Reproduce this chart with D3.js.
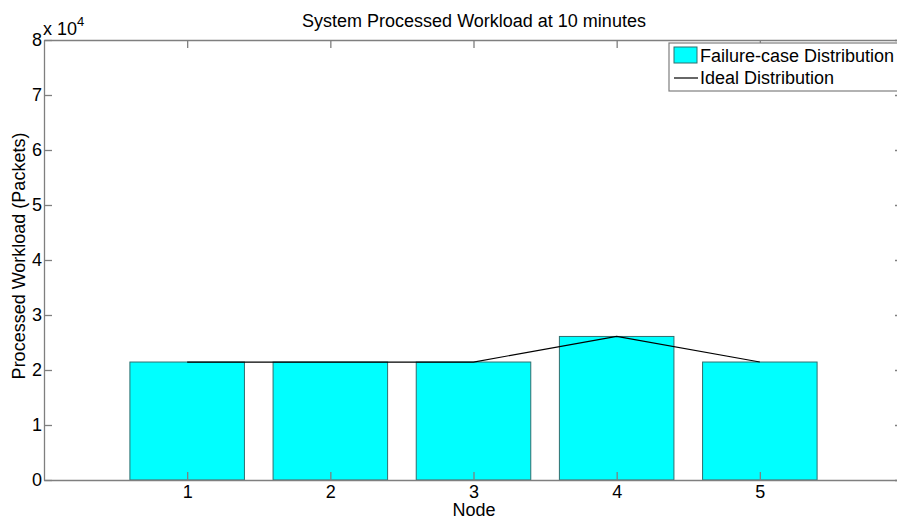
<!DOCTYPE html>
<html>
<head>
<meta charset="utf-8">
<script src="https://cdn.jsdelivr.net/npm/d3@7"></script>
<style>
  html, body { margin: 0; padding: 0; background: #fff; }
  svg { display: block; font-family: "Liberation Sans", Arial, sans-serif; }
</style>
</head>
<body>
<svg id="chart" width="897" height="520"></svg>
<script>
// Node identifiers along the x axis
const nodes = [1, 2, 3, 4, 5];
// Processed workload per node (packets) after a failure
const failureWorkload = [21450, 21450, 21450, 26100, 21450];
// Workload each node would carry under the ideal distribution
const idealWorkload = [21450, 21450, 21450, 26100, 21450];
// Y tick values in units of 10^4 packets
const yTicks = [0, 1, 2, 3, 4, 5, 6, 7, 8];

const svg = d3.select("#chart");
const plotLeft = 44, plotRight = 903, plotTop = 40, plotBottom = 480;
const axisColor = "#7f7f7f";
const fontFamily = "Liberation Sans, Arial, sans-serif";

const x = d3.scaleLinear().domain([0, 6]).range([plotLeft, plotRight]);
const y = d3.scaleLinear().domain([0, 80000]).range([plotBottom, plotTop]);
const barW = x(0.8) - x(0);

// Bars
svg.append("g").selectAll("rect")
  .data(nodes)
  .join("rect")
  .attr("x", (d) => x(d) - barW / 2)
  .attr("y", (d, i) => y(failureWorkload[i]))
  .attr("width", barW)
  .attr("height", (d, i) => y(0) - y(failureWorkload[i]))
  .attr("fill", "#00ffff")
  .attr("stroke", "#2f6f6f")
  .attr("stroke-width", 1);

// Ideal distribution line
const line = d3.line()
  .x((d) => x(d))
  .y((d, i) => y(idealWorkload[i]));
svg.append("path")
  .datum(nodes)
  .attr("d", line)
  .attr("fill", "none")
  .attr("stroke", "#000")
  .attr("stroke-width", 1.2);

// Axes box with inward ticks on all sides
const yAxisL = d3.axisLeft(y).tickValues(yTicks.map((t) => t * 10000))
  .tickFormat((d) => d / 10000).tickSizeInner(-8).tickSizeOuter(0).tickPadding(2);
const yAxisR = d3.axisRight(y).tickValues(yTicks.map((t) => t * 10000))
  .tickFormat("").tickSizeInner(-8).tickSizeOuter(0);
const xAxisB = d3.axisBottom(x).tickValues(nodes)
  .tickFormat(d3.format("d")).tickSizeInner(-8).tickSizeOuter(0).tickPadding(5);
const xAxisT = d3.axisTop(x).tickValues(nodes)
  .tickFormat("").tickSizeInner(-8).tickSizeOuter(0);

function styleAxis(g) {
  g.select(".domain").attr("stroke", axisColor).attr("stroke-width", 1.3);
  g.selectAll(".tick line").attr("stroke", axisColor).attr("stroke-width", 1.3);
  g.selectAll(".tick text").attr("fill", "#000").attr("font-size", 18)
    .attr("font-family", fontFamily);
}
svg.append("g").attr("transform", `translate(${plotLeft},0)`).call(yAxisL).call(styleAxis);
svg.append("g").attr("transform", `translate(${plotRight},0)`).call(yAxisR).call(styleAxis);
svg.append("g").attr("transform", `translate(0,${plotTop})`).call(xAxisT).call(styleAxis);
svg.append("g").attr("transform", `translate(0,${plotBottom})`).call(xAxisB).call(styleAxis);

// Exponent label
const expo = svg.append("text").attr("x", 43).attr("y", 35)
  .attr("font-size", 18).attr("fill", "#000");
expo.append("tspan").text("x 10");
expo.append("tspan").attr("dy", -9).attr("font-size", 13).text("4");

// Title and axis labels
svg.append("text").attr("x", 474).attr("y", 27)
  .attr("text-anchor", "middle").attr("font-size", 18).attr("fill", "#000")
  .text("System Processed Workload at 10 minutes");
svg.append("text").attr("x", 474).attr("y", 516)
  .attr("text-anchor", "middle").attr("font-size", 18).attr("fill", "#000")
  .text("Node");
svg.append("text").attr("transform", "translate(25,256) rotate(-90)")
  .attr("text-anchor", "middle").attr("font-size", 18).attr("fill", "#000")
  .text("Processed Workload (Packets)");

// Legend
const lg = svg.append("g").attr("transform", "translate(669,43)");
lg.append("rect").attr("x", 0).attr("y", 0).attr("width", 240).attr("height", 48)
  .attr("fill", "#fff").attr("stroke", axisColor).attr("stroke-width", 1.2);
lg.append("rect").attr("x", 5).attr("y", 4).attr("width", 23).attr("height", 16)
  .attr("fill", "#00ffff").attr("stroke", "#2f6f6f");
lg.append("text").attr("x", 31).attr("y", 19).attr("font-size", 18).attr("fill", "#000")
  .text("Failure-case Distribution");
lg.append("line").attr("x1", 5).attr("x2", 29).attr("y1", 35).attr("y2", 35)
  .attr("stroke", "#000").attr("stroke-width", 1.2);
lg.append("text").attr("x", 31).attr("y", 41).attr("font-size", 18).attr("fill", "#000")
  .text("Ideal Distribution");
</script>
</body>
</html>
